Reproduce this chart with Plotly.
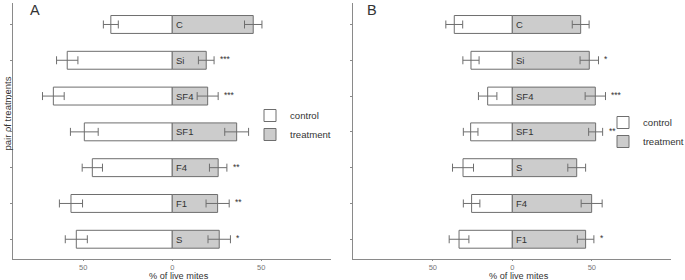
import plotly.graph_objects as go

# ---- data ----
cats_A = ["C", "Si", "SF4", "SF1", "F4", "F1", "S"]
ctrl_A = [34.5, 59.0, 66.8, 49.4, 44.9, 56.9, 53.9]
ctrl_err_A = [4.2, 6.0, 6.1, 7.8, 5.7, 6.5, 6.2]
trt_A = [45.5, 19.1, 19.9, 36.2, 25.8, 25.5, 26.4]
trt_err_A = [4.9, 4.4, 5.9, 6.7, 4.9, 6.5, 6.3]
sig_A = ["", "***", "***", "", "**", "**", "*"]

cats_B = ["C", "Si", "SF4", "SF1", "S", "F4", "F1"]
ctrl_B = [36.5, 26.0, 15.5, 26.2, 31.0, 25.6, 33.5]
ctrl_err_B = [5.3, 5.1, 5.8, 4.6, 6.6, 5.2, 6.2]
trt_B = [43.0, 48.4, 52.2, 52.4, 40.5, 49.9, 46.1]
trt_err_B = [5.3, 5.8, 6.4, 4.4, 5.6, 6.6, 5.2]
sig_B = ["", "*", "***", "**", "", "", "*"]

x_tickvals = [-50, 0, 50]
x_ticktext = ["50", "0", "50"]

FONT = "Liberation Sans, Arial, sans-serif"
EDGE = "#6e6e6e"
AX = "#8a8a8a"
TXT = "#333333"

fig = go.Figure()

panels = [
    ("x", "y", "legend", cats_A, ctrl_A, ctrl_err_A, trt_A, trt_err_A, sig_A),
    ("x2", "y2", "legend2", cats_B, ctrl_B, ctrl_err_B, trt_B, trt_err_B, sig_B),
]

annotations = []
for xa, ya, lg, cats, ctrl, cerr, trt, terr, sig in panels:
    fig.add_trace(go.Bar(
        y=cats, x=[-v for v in ctrl], orientation="h",
        name="control", legend=lg, xaxis=xa, yaxis=ya, width=0.5,
        marker=dict(color="white", line=dict(color=EDGE, width=1)),
        error_x=dict(type="data", array=cerr, symmetric=True, color=EDGE, thickness=1, width=4),
        hoverinfo="skip",
    ))
    fig.add_trace(go.Bar(
        y=cats, x=trt, orientation="h",
        name="treatment", legend=lg, xaxis=xa, yaxis=ya, width=0.5,
        marker=dict(color="#cccccc", line=dict(color=EDGE, width=1)),
        error_x=dict(type="data", array=terr, symmetric=True, color=EDGE, thickness=1, width=4),
        hoverinfo="skip",
    ))
    for c, t, e, s in zip(cats, trt, terr, sig):
        annotations.append(dict(x=0, y=c, xref=xa, yref=ya, text=c, showarrow=False,
                                xanchor="left", yanchor="middle", xshift=2,
                                font=dict(family=FONT, size=9.5, color=TXT)))
        if s:
            annotations.append(dict(x=t + e, y=c, xref=xa, yref=ya, text=s, showarrow=False,
                                    xanchor="left", yanchor="middle", xshift=4, yshift=1,
                                    font=dict(family=FONT, size=8.5, color=TXT)))

W, H = 685, 280
def px(x):
    return x / W
def py(y):
    return 1 - y / H

axis_common = dict(showgrid=False, zeroline=False, showline=True, linecolor=AX, linewidth=1,
                   ticks="outside", tickcolor=AX,
                   tickfont=dict(family=FONT, size=7.5, color="#777777"))

legend_common = dict(xanchor="left", yanchor="top", bgcolor="rgba(0,0,0,0)",
                     font=dict(family=FONT, size=9.6, color=TXT), itemwidth=30,
                     tracegroupgap=0)

fig.update_layout(
    width=W, height=H,
    margin=dict(l=0, r=0, t=0, b=0, autoexpand=False),
    paper_bgcolor="white", plot_bgcolor="white",
    barmode="overlay",
    showlegend=True,
    font=dict(family=FONT),
    xaxis=dict(domain=[px(13.3), px(331)], range=[-89.3, 89.2], anchor="y", ticklen=1,
               tickvals=x_tickvals, ticktext=x_ticktext, **axis_common),
    yaxis=dict(domain=[py(259.3), py(3)], anchor="x", range=[-0.56, 6.6], ticklen=2,
               type="category", categoryorder="array", categoryarray=list(reversed(cats_A)),
               showticklabels=False, **axis_common),
    xaxis2=dict(domain=[px(353.3), px(671)], range=[-100, 99.8], anchor="y2", ticklen=1,
                tickvals=x_tickvals, ticktext=x_ticktext, **axis_common),
    yaxis2=dict(domain=[py(259.3), py(3)], anchor="x2", range=[-0.56, 6.6], ticklen=2,
                type="category", categoryorder="array", categoryarray=list(reversed(cats_B)),
                showticklabels=False, **axis_common),
    legend=dict(x=px(250), y=py(101), **legend_common),
    legend2=dict(x=px(603), y=py(108), **legend_common),
)

annotations += [
    dict(x=px(35), y=py(10), xref="paper", yref="paper", text="A", showarrow=False,
         xanchor="center", yanchor="middle", font=dict(family=FONT, size=14.5, color=TXT)),
    dict(x=px(372), y=py(10), xref="paper", yref="paper", text="B", showarrow=False,
         xanchor="center", yanchor="middle", font=dict(family=FONT, size=14.5, color=TXT)),
    dict(x=px(6.5), y=py(114), xref="paper", yref="paper", text="pair of treatments", showarrow=False,
         xanchor="center", yanchor="middle",
         textangle=-90, font=dict(family=FONT, size=9.5, color=TXT)),
    dict(x=px(179), y=py(276.2), xref="paper", yref="paper", text="% of live mites", showarrow=False,
         xanchor="center", yanchor="middle", font=dict(family=FONT, size=9.2, color=TXT)),
    dict(x=px(519), y=py(276.2), xref="paper", yref="paper", text="% of live mites", showarrow=False,
         xanchor="center", yanchor="middle", font=dict(family=FONT, size=9.2, color=TXT)),
]
fig.update_layout(annotations=annotations)

fig.write_html("out.html", config={"displayModeBar": False},
               post_script="document.body.style.margin='0';document.body.style.padding='0';document.body.style.overflow='hidden';")
